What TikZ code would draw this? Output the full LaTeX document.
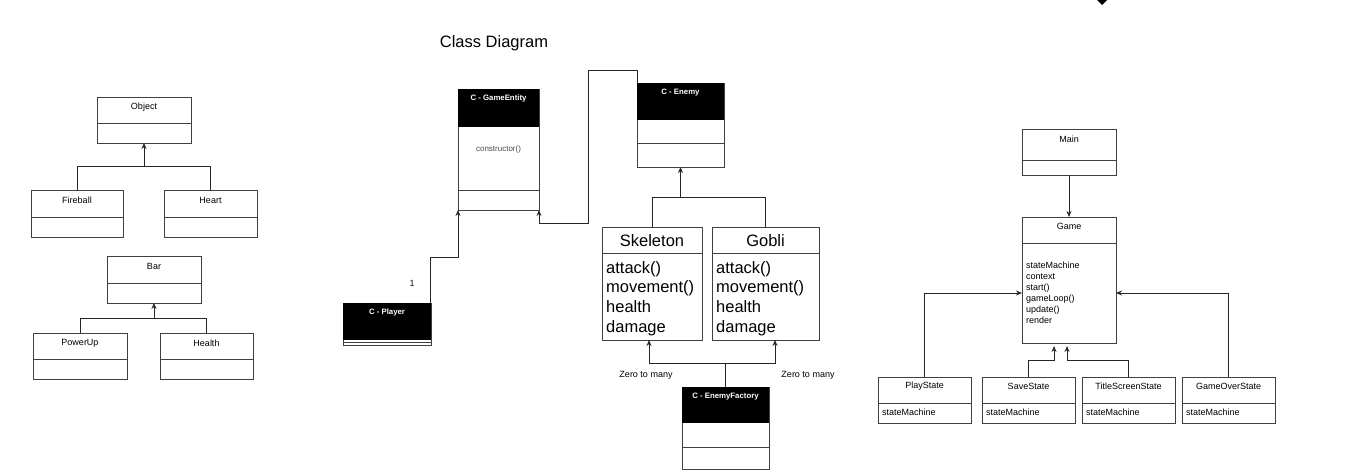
\documentclass[tikz,border=0pt]{standalone}
\usepackage{fontspec}
\setmainfont{Liberation Sans}
\usetikzlibrary{arrows.meta}

\begin{document}
\begin{tikzpicture}[x=1pt,y=-1pt,
  box/.style={draw=black!75,line width=0.75pt,anchor=north west,inner sep=0pt,outer sep=0pt},
  rule/.style={draw=black!75,line width=0.75pt},
  lbl/.style={font=\fontsize{9}{11}\selectfont,inner sep=0pt},
  head/.style={font=\fontsize{7.8}{9}\selectfont\bfseries,text=white,inner sep=0pt},
  big/.style={font=\fontsize{16.5}{19.7}\selectfont,inner sep=0pt},
  link/.style={draw=black!85,line width=0.8pt},
  arr/.style={link,-{Stealth[length=6pt,width=5pt]}}]
\useasboundingbox (0,0) rectangle (1357,472);

\node[font=\fontsize{16.5}{20}\selectfont,inner sep=0pt] (title) at (494,43) {Class Diagram};

% plain classes
\foreach \nm/\txt/\x/\y/\w/\h/\dv in {object/Object/97/97/94/46/26, fireball/Fireball/31/190/92/47/27, heart/Heart/164/190/93/47/27, bar/Bar/107/256/94/47/27, powerup/PowerUp/33/333/94/46/26, health/Health/160/333/93/46/26, main/Main/1022/129/94/46/31}{
  \node[box,minimum width=\w pt,minimum height=\h pt] (\nm) at (\x,\y) {};
  \node[lbl] (\nm-t) at ([yshift=-10pt]\nm.north) {\txt};
  \draw[rule] ([yshift=-\dv pt]\nm.north west) -- ([yshift=-\dv pt]\nm.north east);
}

% state classes
\foreach \nm/\txt/\x in {playstate/PlayState/878, savestate/SaveState/982, titlestate/TitleScreenState/1082, overstate/GameOverState/1182}{
  \node[box,minimum width=93pt,minimum height=46pt] (\nm) at (\x,377) {};
  \node[lbl] (\nm-t) at ([yshift=-9pt]\nm.north) {\txt};
  \draw[rule] ([yshift=-26pt]\nm.north west) -- ([yshift=-26pt]\nm.north east);
  \node[lbl,anchor=west] (\nm-a) at ([xshift=4pt,yshift=-35.5pt]\nm.north west) {stateMachine};
}

% black header classes
\foreach \nm/\txt/\x/\y/\w/\h/\hd/\dv in {gameentity/C - GameEntity/458/89/81/121/38/101, enemy/C - Enemy/637/83/87/84/37/60, factory/C - EnemyFactory/682/387/87/82/36/60}{
  \node[box,minimum width=\w pt,minimum height=\h pt] (\nm) at (\x,\y) {};
  \fill ([yshift=-\hd pt]\nm.north west) rectangle (\nm.north east);
  \node[head] (\nm-t) at ([yshift=-9.5pt]\nm.north) {\txt};
  \draw[rule] ([yshift=-\dv pt]\nm.north west) -- ([yshift=-\dv pt]\nm.north east);
}
\node[font=\fontsize{8}{9}\selectfont,text=black!70,inner sep=0pt] (ctor) at ([yshift=-60pt]gameentity.north) {constructor()};

\node[box,minimum width=88pt,minimum height=42pt] (player) at (343,303) {};
\fill (player.north west) rectangle ([yshift=-37pt]player.north east);
\node[head] (player-t) at ([yshift=-9.5pt]player.north) {C - Player};
\draw[rule] ([yshift=-39.5pt]player.north west) -- ([yshift=-39.5pt]player.north east);

% enemies
\foreach \nm/\txt/\x/\w in {skeleton/Skeleton/602/100, gobli/Gobli/712/107}{
  \node[box,minimum width=\w pt,minimum height=113pt] (\nm) at (\x,227) {};
  \node[big] (\nm-t) at ([yshift=-13.5pt]\nm.north) {\txt};
  \draw[rule] ([yshift=-26pt]\nm.north west) -- ([yshift=-26pt]\nm.north east);
  \node[big,anchor=north west,align=left] (\nm-a) at ([xshift=4pt,yshift=-34pt]\nm.north west) {attack()\\movement()\\health\\damage};
}

\node[box,minimum width=94pt,minimum height=126pt] (game) at (1022,217) {};
\node[lbl] (game-t) at ([yshift=-9.5pt]game.north) {Game};
\draw[rule] ([yshift=-26pt]game.north west) -- ([yshift=-26pt]game.north east);
\node[lbl,anchor=north west,align=left] (game-a) at ([xshift=4pt,yshift=-44.5pt]game.north west) {stateMachine\\context\\start()\\gameLoop()\\update()\\render};

% labels
\node[lbl,text=black!80!red] (one) at (412,283) {1};
\node[lbl] (zero-l) at (646,375) {Zero to many};
\node[lbl] (zero-r) at (808,375) {Zero to many};

% connectors
\draw[arr] (fireball.north) |- ([yshift=-23pt]object.south) -- (object.south);
\draw[link] (heart.north) |- ([yshift=-23pt]object.south);
\draw[arr] (powerup.north) |- ([yshift=-15pt]bar.south) -- (bar.south);
\draw[link] (health.north) |- ([yshift=-15pt]bar.south);

\coordinate (bendA) at (588,70);
\coordinate (bendB) at (539,223);
\draw[arr] (enemy.north west) |- (bendA) |- (bendB) -- (gameentity.south east);
\draw[arr] ([xshift=-1pt]player.north east) |- ([yshift=-47pt]gameentity.south west) -- (gameentity.south west);

\draw[arr] (skeleton.north) |- ([yshift=-30pt]enemy.south) -- (enemy.south);
\draw[link] (gobli.north) |- ([yshift=-30pt]enemy.south);
\draw[arr] (factory.north) |- ([xshift=-3pt,yshift=-23pt]skeleton.south) -- ([xshift=-3pt]skeleton.south);
\draw[arr] (factory.north) |- ([xshift=9.5pt,yshift=-23pt]gobli.south) -- ([xshift=9.5pt]gobli.south);

\draw[arr] (main.south) -- (game.north);
\draw[arr] (playstate.north) |- ([yshift=-13pt]game.west);
\draw[arr] (overstate.north) |- ([yshift=-13pt]game.east);
\draw[arr] (savestate.north) |- ([xshift=-15pt,yshift=-17pt]game.south) -- ([xshift=-15pt,yshift=-3pt]game.south);
\draw[arr] (titlestate.north) |- ([xshift=-2pt,yshift=-17pt]game.south) -- ([xshift=-2pt,yshift=-3pt]game.south);

\fill (1097,0) -- (1107,0) -- (1102,5) -- cycle;
\end{tikzpicture}
\end{document}
